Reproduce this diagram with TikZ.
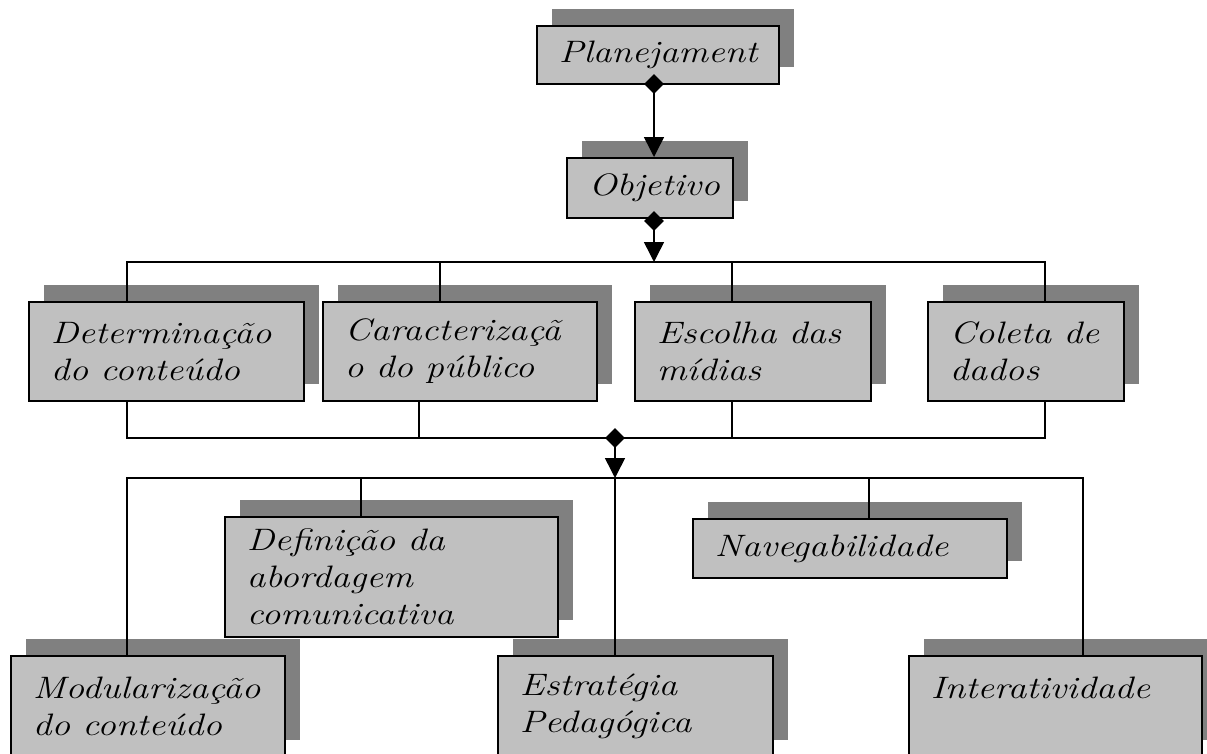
\documentclass[tikz,border=0pt]{standalone}
\usepackage{graphicx}
\usetikzlibrary{arrows.meta,shapes.geometric}
\definecolor{boxgray}{HTML}{C0C0C0}
\definecolor{shadowgray}{HTML}{808080}
\newcommand{\sx}[1]{\scalebox{1.2}[1]{#1}}
\tikzset{
  boxnode/.style={draw=black, line width=1.8pt, fill=boxgray, rectangle,
    anchor=north west, inner xsep=22pt, inner ysep=0pt, align=left,
    font=\fontsize{31}{37}\selectfont\itshape},
  shadowbox/.style={fill=shadowgray, draw=none},
  link/.style={line width=1.5pt, line join=miter},
  arrowlink/.style={line width=1.5pt, -{Triangle[width=20pt,length=20pt]}},
  dia/.style={diamond, fill=black, draw=none, minimum width=20pt,
    minimum height=20pt, inner sep=0pt}
}
\begin{document}
\begin{tikzpicture}[x=1pt,y=-1pt]
\useasboundingbox (0,0) rectangle (1207,753);
\clip (0,0) rectangle (1207,753);
\fill[white] (0,0) rectangle (1207,753);

% shadows
\fill[shadowbox] (552,9) rectangle (794,67);
\fill[shadowbox] (582,141) rectangle (748,201);
\fill[shadowbox] (44,285) rectangle (319,384);
\fill[shadowbox] (338,285) rectangle (612,384);
\fill[shadowbox] (650,285) rectangle (886,384);
\fill[shadowbox] (943,285) rectangle (1139,384);
\fill[shadowbox] (240,500) rectangle (573,620);
\fill[shadowbox] (708,502) rectangle (1022,561);
\fill[shadowbox] (26,639) rectangle (300,740);
\fill[shadowbox] (513,639) rectangle (788,740);
\fill[shadowbox] (924,639) rectangle (1217,740);

% boxes
\node[boxnode, minimum width=242pt, minimum height=58pt, text width=198pt] (Plan) at (536,25) {\sx{Planejament}};
\node[boxnode, minimum width=166pt, minimum height=60pt, text width=122pt] (Obj) at (566,157) {\sx{Objetivo}};
\node[boxnode, minimum width=275pt, minimum height=99pt, text width=231pt] (Det) at (28,301) {\sx{Determinação}\\\sx{do conteúdo}};
\node[boxnode, minimum width=274pt, minimum height=99pt, text width=230pt] (Car) at (322,301) {\sx{Caracterizaçã}\\\sx{o do público}};
\node[boxnode, minimum width=236pt, minimum height=99pt, text width=192pt] (Esc) at (634,301) {\sx{Escolha das}\\\sx{mídias}};
\node[boxnode, minimum width=196pt, minimum height=99pt, text width=152pt] (Col) at (927,301) {\sx{Coleta de}\\\sx{dados}};
\node[boxnode, minimum width=333pt, minimum height=120pt, text width=289pt] (Def) at (224,516) {\sx{Definição da}\\\sx{abordagem}\\\sx{comunicativa}};
\node[boxnode, minimum width=314pt, minimum height=59pt, text width=270pt] (Nav) at (692,518) {\sx{Navegabilidade}};
\node[boxnode, minimum width=274pt, minimum height=101pt, text width=230pt] (Mod) at (10,655) {\sx{Modularização}\\\sx{do conteúdo}};
\node[boxnode, minimum width=275pt, minimum height=101pt, text width=231pt] (Est) at (497,655) {\sx{Estratégia}\\\sx{Pedagógica}};
\node[boxnode, minimum width=293pt, minimum height=101pt, text width=249pt] (Int) at (908,655) {\sx{Interatividade}\\\mbox{}};

% bus coordinates
\coordinate (b1w) at (127,262);
\coordinate (b1e) at (1045,262);
\coordinate (b1a) at (440,262);
\coordinate (b1b) at (732,262);
\coordinate (b2w) at (127,438);
\coordinate (b2e) at (1045,438);
\coordinate (b2a) at (419,438);
\coordinate (b2b) at (732,438);
\coordinate (b3w) at (127,478);
\coordinate (b3e) at (1083,478);
\coordinate (b3a) at (361,478);
\coordinate (b3b) at (615,478);
\coordinate (b3c) at (869,478);

% top chain
\node[dia] (dP) at (654,84) {};
\draw[arrowlink] (dP.center) -- (dP.center |- Obj.north);
\node[dia] (dO) at (654,221) {};
\draw[arrowlink] (dO.center) -- (dO.center |- b1w);

% bus 1
\draw[link] (b1w |- Det.north) -- (b1w) -- (b1e) -- (b1e |- Col.north);
\draw[link] (b1a) -- (b1a |- Car.north);
\draw[link] (b1b) -- (b1b |- Esc.north);

% bus 2
\draw[link] (b2w |- Det.south) -- (b2w) -- (b2e) -- (b2e |- Col.south);
\draw[link] (b2a) -- (b2a |- Car.south);
\draw[link] (b2b) -- (b2b |- Esc.south);
\node[dia] (dB) at (615,438) {};
\draw[arrowlink] (dB.center) -- (dB.center |- b3w);

% bus 3
\draw[link] (b3w |- Mod.north) -- (b3w) -- (b3e) -- (b3e |- Int.north);
\draw[link] (b3a) -- (b3a |- Def.north);
\draw[link] (b3b) -- (b3b |- Est.north);
\draw[link] (b3c) -- (b3c |- Nav.north);
\end{tikzpicture}
\end{document}
